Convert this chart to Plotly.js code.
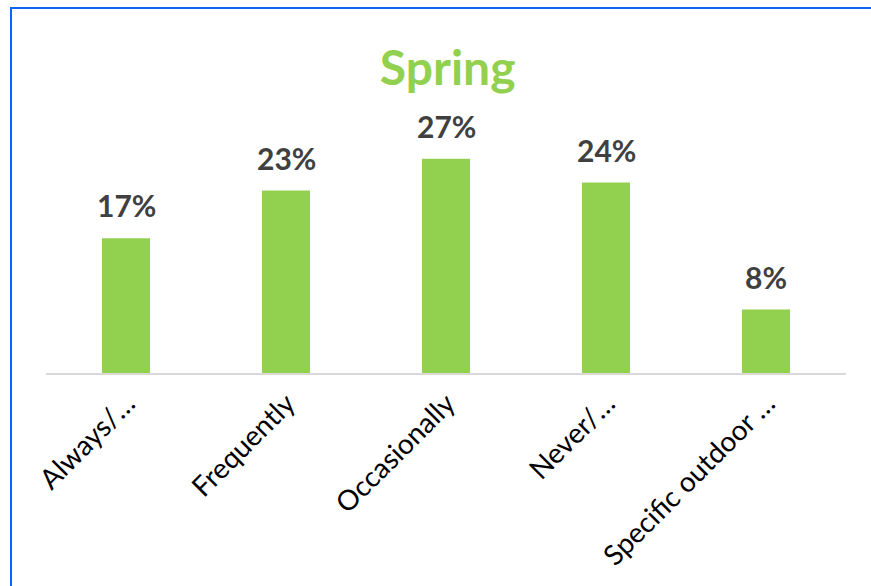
<!DOCTYPE html>
<html>
<head>
<meta charset="utf-8">
<script src="https://cdn.plot.ly/plotly-3.0.1.min.js"></script>
<style>
  html, body { margin: 0; padding: 0; background: #ffffff; }
  #wrap { position: relative; width: 871px; height: 586px; overflow: hidden; }
  #chart { position: absolute; left: 0; top: 0; width: 871px; height: 586px; }
  #frame { position: absolute; left: 10px; top: 7px; width: 900px; height: 600px;
           border-left: 2px solid #0b66f5; border-top: 2px solid #0b66f5; pointer-events: none; }
</style>
</head>
<body>
<div id="wrap">
  <div id="chart"></div>
  <div id="frame"></div>
</div>
<script>
const categories = ["Always/\u2026", "Frequently", "Occasionally", "Never/\u2026", "Specific outdoor \u2026"];
const values = [17, 23, 27, 24, 8];
const valueLabels = ["17%", "23%", "27%", "24%", "8%"];
const chartTitle = "Spring";

const trace = {
  type: "bar",
  x: categories,
  y: values,
  marker: { color: "#92D050", line: { width: 0 } },
  hoverinfo: "none"
};

const labelAnnotations = categories.map((c, i) => ({
  x: c,
  y: values[i],
  xref: "x",
  yref: "y",
  text: "<b>" + valueLabels[i] + "</b>",
  showarrow: false,
  xanchor: "center",
  yanchor: "bottom",
  yshift: 13,
  font: { family: "Lato, 'Open Sans', sans-serif", size: 30, color: "#404040" }
}));

const layout = {
  width: 871,
  height: 586,
  margin: { l: 46, r: 25, t: 135, b: 213 },
  paper_bgcolor: "#ffffff",
  plot_bgcolor: "#ffffff",
  showlegend: false,
  bargap: 0.7,
  title: {
    text: "<b>" + chartTitle + "</b>",
    font: { family: "Lato, 'Open Sans', sans-serif", size: 48, color: "#92D050" },
    x: 0.514, xanchor: "center",
    y: 0.884, yanchor: "middle"
  },
  annotations: labelAnnotations,
  xaxis: {
    type: "category",
    tickangle: -45,
    tickfont: { family: "Lato, 'Open Sans', sans-serif", size: 28, color: "#000000" },
    ticklabelshift: 1,
    ticklabelstandoff: 1,
    showline: true,
    linecolor: "#D9D9D9",
    linewidth: 2,
    ticks: "",
    showgrid: false,
    zeroline: false,
    automargin: false
  },
  yaxis: {
    range: [0, 30],
    visible: false,
    showgrid: false,
    zeroline: false,
    fixedrange: true
  }
};

Plotly.newPlot("chart", [trace], layout, { displayModeBar: false, staticPlot: true });
</script>
</body>
</html>
